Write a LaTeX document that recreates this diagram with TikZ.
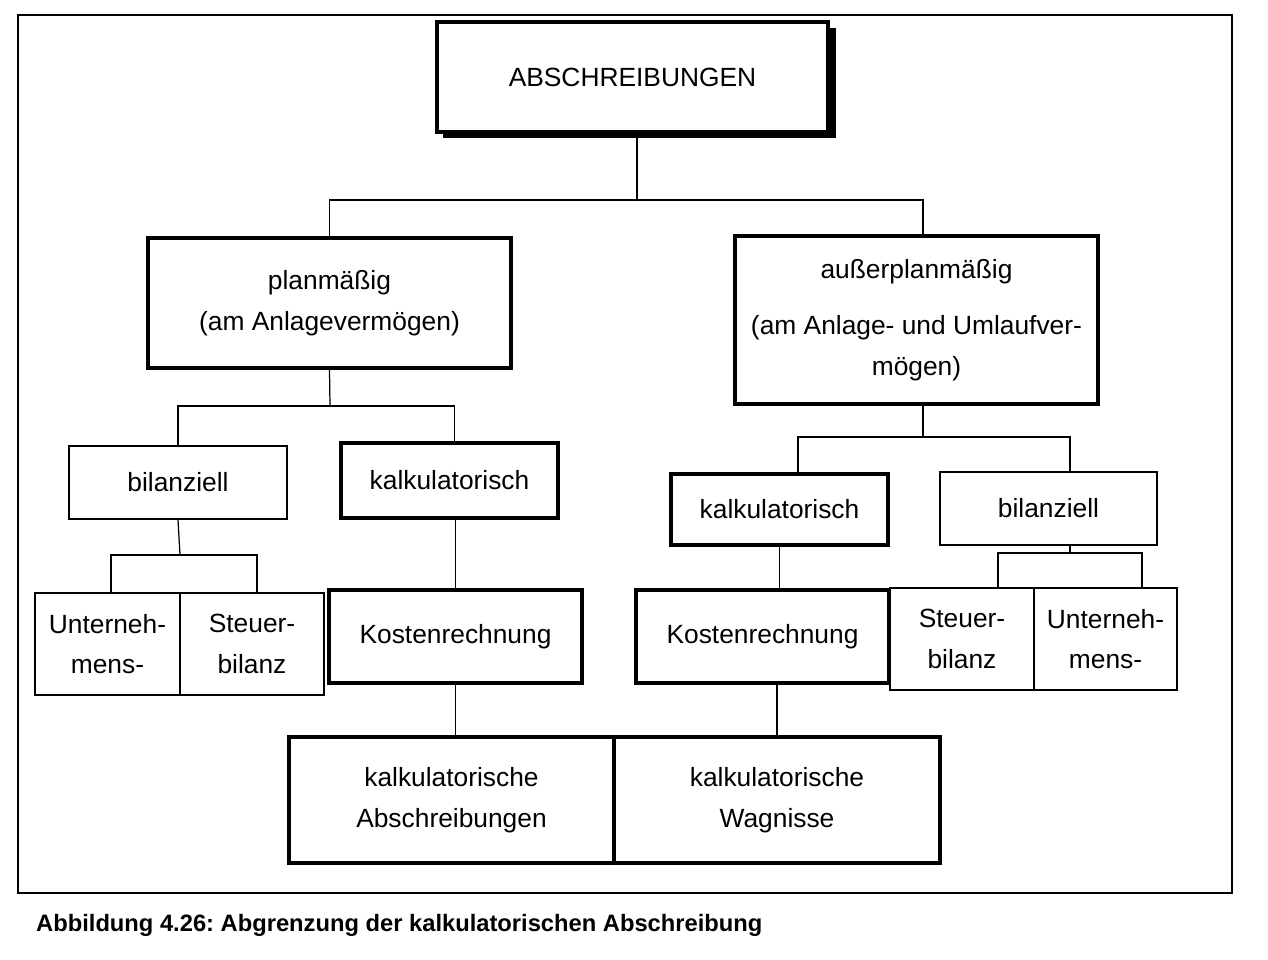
\documentclass[tikz,border=0pt]{standalone}
\usepackage{fontspec}
\setmainfont{Liberation Sans}
\frenchspacing
\begin{document}
\begin{tikzpicture}[x=0.02cm,y=-0.02cm,
  thinbox/.style={draw,line width=0.8pt,fill=white,align=center,inner sep=0pt,font=\fontsize{15}{23}\selectfont},
  thickbox/.style={thinbox,line width=2.3pt},
  conn/.style={line width=0.7pt}]
\useasboundingbox (0,0) rectangle (1268,960);
\draw[line width=0.8pt] (18,15) rectangle (1232,893);
\fill (443,28) rectangle (836,138);
\node[thickbox,minimum width=7.82cm,minimum height=2.2cm] (top) at (632.5,77) {ABSCHREIBUNGEN};
\node[thickbox,minimum width=7.26cm,minimum height=2.6cm] (plan) at (329.5,303) {planmäßig\\(am Anlagevermögen)};
\node[thickbox,minimum width=7.26cm,minimum height=3.36cm] (ausser) at (916.5,320) {außerplanmäßig\\[9pt](am Anlage- und Umlaufver-\\mögen)};
\node[thinbox,minimum width=4.36cm,minimum height=1.46cm] (bilL) at (178,482.5) {bilanziell};
\node[thickbox,minimum width=4.34cm,minimum height=1.5cm] (kalkL) at (449.5,480.5) {kalkulatorisch};
\node[thickbox,minimum width=4.34cm,minimum height=1.42cm] (kalkR) at (779.5,509.5) {kalkulatorisch};
\node[thinbox,minimum width=4.34cm,minimum height=1.46cm] (bilR) at (1048.5,508.5) {bilanziell};
\node[thinbox,minimum width=2.9cm,minimum height=2.04cm] (untL) at (107.5,644) {Unterneh-\\mens-};
\node[thinbox,minimum width=2.88cm,minimum height=2.04cm] (stL) at (252,644) {Steuer-\\bilanz};
\node[thickbox,minimum width=5.06cm,minimum height=1.86cm] (kosL) at (455.5,636.5) {Kostenrechnung};
\node[thickbox,minimum width=5.06cm,minimum height=1.86cm] (kosR) at (762.5,636.5) {Kostenrechnung};
\node[thinbox,minimum width=2.88cm,minimum height=2.04cm] (stR) at (962,639) {Steuer-\\bilanz};
\node[thinbox,minimum width=2.86cm,minimum height=2.04cm] (untR) at (1105.5,639) {Unterneh-\\mens-};
\node[thickbox,minimum width=6.5cm,minimum height=2.52cm] (kA) at (451.5,800) {kalkulatorische\\Abschreibungen};
\node[thickbox,minimum width=6.52cm,minimum height=2.52cm] (kW) at (777,800) {kalkulatorische\\Wagnisse};
\coordinate (j1) at (637,200);
\coordinate (j2) at (330,406);
\coordinate (j3) at (923,437);
\coordinate (j4) at (180,555);
\coordinate (j5) at (1070,553);
\draw[conn] (top.south -| j1) -- (j1);
\draw[conn] (plan.north) |- (j1) -| (ausser.north -| j3);
\draw[conn] (plan.south) -- (j2);
\draw[conn] (bilL.north) |- (j2) -| ([xshift=0.1cm]kalkL.north);
\draw[conn] (ausser.south -| j3) -- (j3);
\draw[conn] ([xshift=0.37cm]kalkR.north) |- (j3) -| (bilR.north -| j5);
\draw[conn] (bilL.south) -- (j4);
\draw[conn] ([xshift=0.07cm]untL.north) |- (j4) -| ([xshift=0.1cm]stL.north);
\draw[conn] (bilR.south -| j5) -- (j5);
\draw[conn] ([xshift=0.72cm]stR.north) |- (j5) -| ([xshift=0.73cm]untR.north);
\draw[conn] (kosL.north) -- (kosL.north |- kalkL.south);
\draw[conn] (kalkR.south) -- (kalkR.south |- kosR.north);
\draw[conn] (kosL.south) -- (kosL.south |- kA.north);
\draw[conn] (kW.north) -- (kW.north |- kosR.south);
\node[anchor=west,font=\fontsize{13.5}{16}\selectfont\bfseries] (cap) at (30,925) {Abbildung 4.26: Abgrenzung der kalkulatorischen Abschreibung};
\end{tikzpicture}
\end{document}
